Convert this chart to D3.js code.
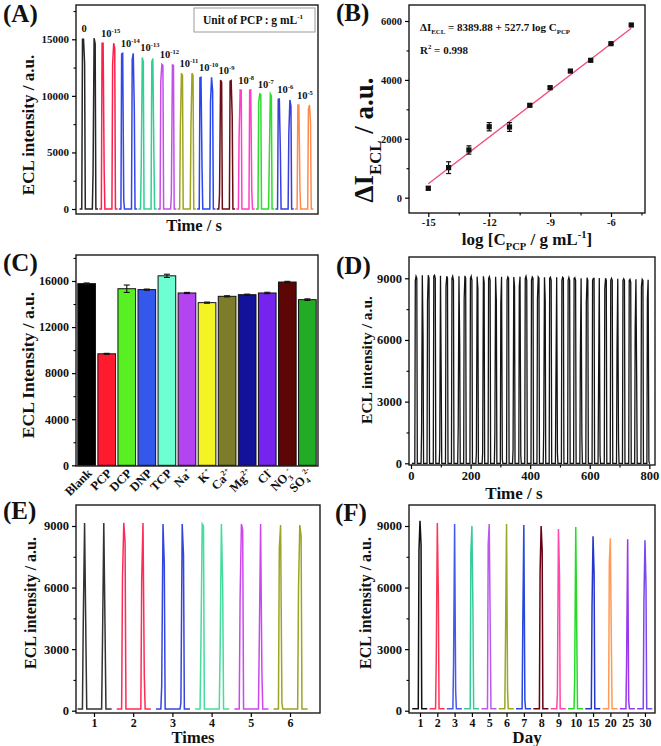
<!DOCTYPE html>
<html><head><meta charset="utf-8">
<script src="https://cdn.jsdelivr.net/npm/d3@7"></script>
<style>body{margin:0;background:#fff}</style>
</head><body>
<script>
// ---------------- DATA ----------------
// Panel A: ECL peaks vs PCP concentration (two scans per concentration)
const concLabelsA = ["0","10^{-15}","10^{-14}","10^{-13}","10^{-12}","10^{-11}","10^{-10}","10^{-9}","10^{-8}","10^{-7}","10^{-6}","10^{-5}"];
const peakHeightA = [[15000,15100],[14650,14650],[13760,13760],[13400,13300],[12790,12730],[12000,12000],[11640,11640],[11400,11350],[10520,10520],[10170,10170],[9730,9640],[9200,9200]];
const shoulderA = [[[15000,12900],[3200,14600]],[[14650,3300],[12800,14200]],[[13700,800],[13200,8700]],[[3700,13000],[13000,4700]],[[11300,12700],[1300,12700]],[[7200,11800],[7200,11800]],[[11600,3500],[9500,10400]],[[1300,11200],[11300,8200]],[[6400,10500],[10500,1600]],[[9400,10100],[4000,10000]],[[9700,5000],[6700,9100]],[[9200,1800],[8800,7700]]];
const colorsA = ["#262626","#ff1f4b","#3346e6","#2fd093","#c44ee8","#9fa322","#2a46ee","#6a0d16","#ff3fc8","#2edc2e","#3a3fdc","#ff8a4c"];
const scanOffsetA = [-0.27, 0.27];

// Panel B: calibration
const logConcB = [-15,-14,-13,-12,-11,-10,-9,-8,-7,-6,-5];
const deltaIB  = [320,1020,1620,2410,2400,3137,3735,4300,4665,5230,5864];
const errB     = [60,200,140,140,150,40,50,40,40,30,30];
const fitIntercept = 8389.88, fitSlope = 527.7;

// Panel C: selectivity
const catsC   = ["Blank","PCP","DCP","DNP","TCP","Na^{+}","K^{+}","Ca^{2+}","Mg^{2+}","Cl^{-}","NO_{3}^{-}","SO_{4}^{2-}"];
const valsC   = [15770,9680,15330,15250,16450,14960,14120,14670,14810,14960,15910,14380];
const errC    = [60,40,320,50,140,50,50,50,50,60,60,70];
const colorsC = ["#000000","#ff1a2e","#58f022","#3558ec","#6dffd2","#b444f2","#f4f424","#7c7c2a","#12129a","#7424ee","#5c0606","#22ac26"];

// Panel D: continuous scans
const timesD = [17,38,58,79,99,120,140,161,181,202,222,243,263,284,304,325,345,366,386,407,427,448,468,489,509,530,550,571,591,612,632,653,673,694,714,735,755,776,796];
const heightD = [9100,9150,9150,9150,9120,9100,9100,9100,9120,9100,9080,9100,9080,9080,9080,9060,9060,9080,9100,9060,9060,9050,9050,9050,9050,9040,9030,9000,9030,9000,9020,9000,9000,8980,8980,8950,8950,8950,8930];
const shoulderD = [[8900,9000],[1500,6100],[7900,9000],[9100,9000],[700,4000],[8600,9000],[9000,8900],[1800,5700],[8000,9000],[9000,8900],[500,8500],[500,8800],[9000,8900],[1400,7900],[7800,200],[8900,9000],[600,8600],[8600,400],[9000,8900],[8900,9000],[8000,9000],[1600,7900],[9000,8900],[4100,500],[8900,9000],[8900,8900],[9000,8900],[5200,1300],[7800,8900],[8900,9000],[3600,400],[8500,8900],[8900,8900],[5500,1100],[8900,8900],[8900,8800],[6600,4000],[8600,8900],[8000,100]];

// Panel E: reproducibility (6 electrodes, 2 scans each)
const timesE = [1,2,3,4,5,6];
const heightE = [[9150,9150],[9150,9150],[9100,9100],[9100,9100],[9100,9100],[9050,9050]];
const shoulderE = [[[4400,3500],[3400,3800]],[[6500,8200],[6400,1700]],[[1200,7200],[400,7600]],[[3100,9000],[2900,6100]],[[5500,8800],[3500,1900]],[[7900,400],[6000,8500]]];
const colorsE = ["#333333","#ff2a55","#3646dc","#45dc9c","#cc48ee","#9ca424"];
const scanOffsetE = [-0.24, 0.25];

// Panel F: stability over days
const daysF = ["1","2","3","4","5","6","7","8","9","10","15","20","25","30"];
const heightF = [9250,9150,9100,9000,9100,9100,9050,9000,8850,8950,8500,8400,8350,8300];
const shoulderF = [[7800,8100],[2600,5700],[2400,1000],[7700,4800],[8100,3900],[3300,1000],[4200,500],[6800,7800],[800,6600],[1600,3800],[5000,6700],[7200,3100],[2400,500],[5300,6100]];
const colorsF = ["#111111","#ff3558","#4658ee","#36cc9a","#bc58ee","#9aa824","#2648dc","#660012","#ff46ac","#24dc24","#2436cc","#ff9a58","#9a38ee","#7a48ee"];

// ---------------- DRAWING ----------------
const FONT = "'Liberation Serif','Times New Roman',Times,serif";
const svg = d3.select("body").append("svg").attr("width",661).attr("height",746)
  .attr("font-family",FONT).attr("font-weight","bold");
svg.append("rect").attr("width",661).attr("height",746).attr("fill","#fff");

function rich(sel, str, fs){
  const parts = str.split(/(\^\{[^}]*\}|_\{[^}]*\})/).filter(s=>s.length);
  let shift = 0;
  parts.forEach(p=>{
    let type='n', txt=p;
    if(p.startsWith('^{')){type='sup';txt=p.slice(2,-1);}
    else if(p.startsWith('_{')){type='sub';txt=p.slice(2,-1);}
    const target = type==='sup' ? -0.42*fs : type==='sub' ? 0.28*fs : 0;
    const t = sel.append('tspan').text(txt).attr('dy', target-shift);
    if(type!=='n') t.attr('font-size', fs*0.62);
    shift = target;
  });
  return sel;
}

function frame(f){
  svg.append("rect").attr("x",f.l).attr("y",f.t).attr("width",f.r-f.l).attr("height",f.b-f.t)
    .attr("fill","none").attr("stroke","#1a1a1a").attr("stroke-width",1.4);
}
function yAxis(f,y,major,minor,fs){
  const g = svg.append("g").attr("transform",`translate(${f.l},0)`)
    .call(d3.axisLeft(y).tickValues(major).tickSize(4).tickPadding(3).tickFormat(d=>d));
  g.select(".domain").remove();
  g.selectAll("text").attr("font-family",FONT).attr("font-weight","bold").attr("font-size",fs).attr("fill","#111");
  g.selectAll("line").attr("stroke-width",1.2);
  if(minor){
    const m = svg.append("g").attr("transform",`translate(${f.l},0)`)
      .call(d3.axisLeft(y).tickValues(minor).tickSize(2.5).tickFormat(""));
    m.select(".domain").remove(); m.selectAll("line").attr("stroke-width",1.1);
  }
}
function xAxis(f,x,major,minor,fs,fmt,pad){
  const g = svg.append("g").attr("transform",`translate(0,${f.b})`)
    .call(d3.axisBottom(x).tickValues(major).tickSize(4).tickPadding(pad==null?2:pad).tickFormat(fmt||(d=>d)));
  g.select(".domain").remove();
  g.selectAll("text").attr("font-family",FONT).attr("font-weight","bold").attr("font-size",fs).attr("fill","#111");
  g.selectAll("line").attr("stroke-width",1.2);
  if(minor){
    const m = svg.append("g").attr("transform",`translate(0,${f.b})`)
      .call(d3.axisBottom(x).tickValues(minor).tickSize(2.5).tickFormat(""));
    m.select(".domain").remove(); m.selectAll("line").attr("stroke-width",1.1);
  }
}
function yTitle(x,yc,str,fs){
  rich(svg.append("text").attr("transform",`translate(${x},${yc}) rotate(-90)`)
    .attr("text-anchor","middle").attr("font-size",fs).attr("fill","#111"), str, fs);
}
function xTitle(xc,y,str,fs){
  rich(svg.append("text").attr("x",xc).attr("y",y).attr("text-anchor","middle")
    .attr("font-size",fs).attr("fill","#111"), str, fs);
}
function panelLabel(x,y,s){
  svg.append("text").attr("x",x).attr("y",y).attr("font-size",25).attr("fill","#111").text(s);
}
// build a peak polyline segment
function peakPts(t,w,base,sL,h,sR){
  return [[t-w,base],[t-0.6*w,sL],[t,h],[t+0.6*w,sR],[t+w,base]];
}

// ===== Panel A =====
{
  const f={l:76,r:318,t:5,b:214};
  const x=d3.scaleLinear().domain([-0.655,11.706]).range([f.l,f.r]);
  const y=d3.scaleLinear().domain([-442,18032]).range([f.b,f.t]);
  const line=d3.line().x(d=>x(d[0])).y(d=>y(d[1]));
  const w=0.09;
  peakHeightA.forEach((hs,g)=>{
    let pts=[[g-0.47,0]];
    hs.forEach((h,k)=>{
      const s=shoulderA[g][k];
      pts=pts.concat(peakPts(g+scanOffsetA[k],w,0,s[0],h,s[1]));
    });
    pts.push([g+0.47,0]);
    svg.append("path").attr("d",line(pts)).attr("fill","none").attr("stroke",colorsA[g]).attr("stroke-width",1.5);
    rich(svg.append("text").attr("x",x(g+scanOffsetA[0])-2).attr("y",y(Math.max(...hs))-6)
      .attr("font-size",10.5).attr("fill","#111"), concLabelsA[g], 10.5);
  });
  frame(f);
  yAxis(f,y,[0,5000,10000,15000],[2500,7500,12500,17500],11);
  svg.append("rect").attr("x",194).attr("y",8).attr("width",121).attr("height",24)
    .attr("fill","#fff").attr("stroke","#9a9a9a").attr("stroke-width",1);
  rich(svg.append("text").attr("x",203).attr("y",24).attr("font-size",11.5).attr("fill","#111"),"Unit of PCP : g mL^{-1}",11.5);
  yTitle(34,125,"ECL intensity / a.u.",17);
  xTitle(194,231,"Time / s",16.5);
  panelLabel(3,22,"(A)");
}

// ===== Panel B =====
{
  const f={l:409,r:645,t:5,b:213};
  const x=d3.scaleLinear().domain([-15.951,-4.325]).range([f.l,f.r]);
  const y=d3.scaleLinear().domain([-520,6543]).range([f.b,f.t]);
  const xs=d3.extent(logConcB);
  svg.append("line").attr("x1",x(xs[0])).attr("x2",x(xs[1]))
    .attr("y1",y(fitIntercept+fitSlope*xs[0])).attr("y2",y(fitIntercept+fitSlope*xs[1]))
    .attr("stroke","#f0507a").attr("stroke-width",1.4);
  logConcB.forEach((c,i)=>{
    const cx=x(c), e=errB[i];
    svg.append("line").attr("x1",cx).attr("x2",cx).attr("y1",y(deltaIB[i]-e)).attr("y2",y(deltaIB[i]+e)).attr("stroke","#111").attr("stroke-width",1.2);
    [-1,1].forEach(s=>svg.append("line").attr("x1",cx-2.5).attr("x2",cx+2.5).attr("y1",y(deltaIB[i]+s*e)).attr("y2",y(deltaIB[i]+s*e)).attr("stroke","#111").attr("stroke-width",1.2));
    svg.append("rect").attr("x",cx-2.6).attr("y",y(deltaIB[i])-2.6).attr("width",5.2).attr("height",5.2).attr("fill","#111");
  });
  frame(f);
  yAxis(f,y,[0,2000,4000,6000],[1000,3000,5000],10.5);
  xAxis(f,x,[-15,-12,-9,-6],[-13.5,-10.5,-7.5,-4.5],10.5);
  rich(svg.append("text").attr("x",420).attr("y",31).attr("font-size",11).attr("fill","#111"),
    `ΔI_{ECL} = ${fitIntercept} + ${fitSlope} log C_{PCP}`,11);
  rich(svg.append("text").attr("x",420).attr("y",54).attr("font-size",11).attr("fill","#111"),"R^{2} = 0.998",11);
  yTitle(373,140,"ΔI_{ECL} / a.u.",27);
  xTitle(527,245,"log [C_{PCP} / g mL^{-1}]",17);
  panelLabel(336,21,"(B)");
}

// ===== Panel C =====
{
  const f={l:76,r:318,t:255,b:466};
  const x=d3.scaleBand().domain(catsC).range([77,317]).paddingInner(0.12).paddingOuter(0.04);
  const y=d3.scaleLinear().domain([-61,18257]).range([f.b,f.t]);
  catsC.forEach((c,i)=>{
    svg.append("rect").attr("x",x(c)).attr("width",x.bandwidth()).attr("y",y(valsC[i])).attr("height",y(0)-y(valsC[i]))
      .attr("fill",colorsC[i]).attr("stroke","#111").attr("stroke-width",1);
    const cx=x(c)+x.bandwidth()/2, e=errC[i];
    svg.append("line").attr("x1",cx).attr("x2",cx).attr("y1",y(valsC[i]-e)).attr("y2",y(valsC[i]+e)).attr("stroke","#111").attr("stroke-width",1.1);
    [-1,1].forEach(s=>svg.append("line").attr("x1",cx-3).attr("x2",cx+3).attr("y1",y(valsC[i]+s*e)).attr("y2",y(valsC[i]+s*e)).attr("stroke","#111").attr("stroke-width",1.1));
    rich(svg.append("text").attr("transform",`translate(${cx+6},${f.b+8}) rotate(-45)`)
      .attr("text-anchor","end").attr("font-size",12.5).attr("fill","#111"), c, 12.5);
  });
  frame(f);
  yAxis(f,y,[0,4000,8000,12000,16000],[2000,6000,10000,14000,18000],12);
  yTitle(34,365,"ECL Intensity / a.u.",17.5);
  panelLabel(3,271,"(C)");
}

// ===== Panel D =====
{
  const f={l:409,r:655,t:257,b:465};
  const x=d3.scaleLinear().domain([-6.7,819]).range([f.l,f.r]);
  const y=d3.scaleLinear().domain([-83,10036]).range([f.b,f.t]);
  const line=d3.line().x(d=>x(d[0])).y(d=>y(d[1]));
  let pts=[[3,0]];
  timesD.forEach((t,i)=>{ pts=pts.concat(peakPts(t,4.2,0,shoulderD[i][0],heightD[i],shoulderD[i][1])); });
  pts.push([800,0]);
  svg.append("path").attr("d",line(pts)).attr("fill","none").attr("stroke","#141414").attr("stroke-width",1.3);
  frame(f);
  yAxis(f,y,[0,3000,6000,9000],[1500,4500,7500],12.5);
  xAxis(f,x,[0,200,400,600,800],[100,300,500,700],12.5);
  yTitle(372,360,"ECL intensity / a.u.",15.5);
  xTitle(514,499,"Time / s",17);
  panelLabel(336,274,"(D)");
}

// ===== Panel E =====
{
  const f={l:76,r:320,t:505,b:713};
  const x=d3.scaleLinear().domain([0.541,6.765]).range([f.l,f.r]);
  const y=d3.scaleLinear().domain([-112,10023]).range([f.b,f.t]);
  const line=d3.line().x(d=>x(d[0])).y(d=>y(d[1]));
  timesE.forEach((t,g)=>{
    const base=80;
    let pts=[[t-0.42,base]];
    heightE[g].forEach((h,k)=>{
      const s=shoulderE[g][k];
      pts=pts.concat(peakPts(t+scanOffsetE[k],0.055,base,s[0],h,s[1]));
    });
    pts.push([t+0.45,base]);
    svg.append("path").attr("d",line(pts)).attr("fill","none").attr("stroke",colorsE[g]).attr("stroke-width",1.5);
  });
  frame(f);
  yAxis(f,y,[0,3000,6000,9000],[1500,4500,7500],12.5);
  xAxis(f,x,timesE,null,12,null,1);
  yTitle(36,603,"ECL intensity / a.u.",16);
  xTitle(193,743,"Times",16.5);
  panelLabel(3,519,"(E)");
}

// ===== Panel F =====
{
  const f={l:409,r:655,t:505,b:713};
  const x=d3.scaleLinear().domain([-0.636,13.58]).range([f.l,f.r]);
  const y=d3.scaleLinear().domain([-112,10023]).range([f.b,f.t]);
  const line=d3.line().x(d=>x(d[0])).y(d=>y(d[1]));
  daysF.forEach((d,i)=>{
    const base=90;
    const pts=[[i-0.45,base]].concat(peakPts(i,0.1,base,shoulderF[i][0],heightF[i],shoulderF[i][1]),[[i+0.42,base]]);
    svg.append("path").attr("d",line(pts)).attr("fill","none").attr("stroke",colorsF[i]).attr("stroke-width",1.5);
  });
  frame(f);
  yAxis(f,y,[0,3000,6000,9000],[1500,4500,7500],12.5);
  xAxis(f,x,d3.range(daysF.length),null,12,i=>daysF[i],1);
  yTitle(371,603,"ECL intensity / a.u.",16);
  xTitle(527,743,"Day",17);
  panelLabel(335,521,"(F)");
}
</script>
</body></html>
